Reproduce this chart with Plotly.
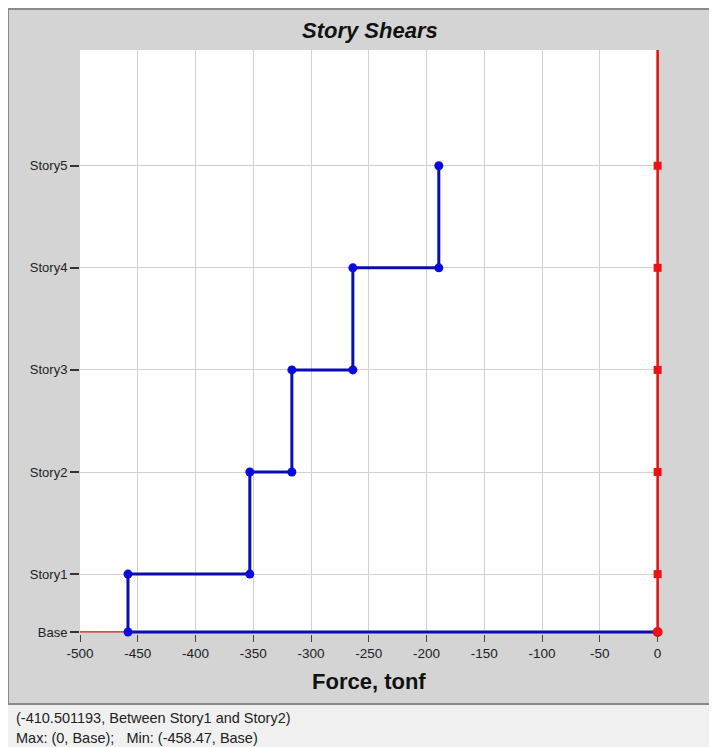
import plotly.graph_objects as go

# ---- data ----
story_names = ["Base", "Story1", "Story2", "Story3", "Story4", "Story5"]
story_elev = [0.0, 1.7, 4.7, 7.7, 10.7, 13.7]
story_shear = [-458.47, -353.0, -316.6, -263.8, -189.4]  # shear in spans Base-Story1 ... Story4-Story5
x_ticks = [-500, -450, -400, -350, -300, -250, -200, -150, -100, -50, 0]
status_line1 = "(-410.501193, Between Story1 and Story2)"
status_line2 = "Max: (0, Base);   Min: (-458.47, Base)"

# build step path (from top down)
xs, ys = [], []
for i in range(len(story_shear) - 1, -1, -1):
    xs += [story_shear[i], story_shear[i]]
    ys += [story_elev[i + 1], story_elev[i]]
xs.append(0)
ys.append(story_elev[0])

# page has an 8px body margin; work in page pixels and convert
OFF = 8
PAGE_W, PAGE_H = 717, 747
W, H = PAGE_W - OFF, PAGE_H - OFF
L, R, T, B = 80 - OFF, 659 - OFF, 50 - OFF, 634 - OFF
ml, mr, mt, mb = L, W - R, T, H - B
pw, ph = R - L, B - T
x_range = [-500, 1.2]
y_range = [-0.06, 17.1]

def px(x_page):
    return (x_page - OFF - L) / pw

def py(y_page):
    return (B - (y_page - OFF)) / ph

FONT = "Liberation Sans, Arial"

fig = go.Figure()

# red baseline & vertical line at zero
fig.add_trace(go.Scatter(x=[-500, 0], y=[0, 0], mode="lines", cliponaxis=False,
                         line=dict(color="#d02020", width=1.3), hoverinfo="skip", showlegend=False))
fig.add_trace(go.Scatter(x=[0] * len(story_elev) + [0], y=story_elev + [y_range[1]], mode="lines",
                         cliponaxis=False,
                         line=dict(color="#e01010", width=2.5), hoverinfo="skip", showlegend=False))
# blue step line
fig.add_trace(go.Scatter(x=xs, y=ys, mode="lines+markers", cliponaxis=False,
                         line=dict(color="#0c0cb0", width=3),
                         marker=dict(color="#0a0ae0", size=9, symbol="circle"),
                         showlegend=False))
# red markers
fig.add_trace(go.Scatter(x=[0] * (len(story_elev) - 1), y=story_elev[1:], mode="markers",
                         cliponaxis=False,
                         marker=dict(color="#ee1111", size=8, symbol="square"),
                         showlegend=False))
fig.add_trace(go.Scatter(x=[0], y=[0], mode="markers", cliponaxis=False,
                         marker=dict(color="#ee1111", size=10, symbol="circle"),
                         showlegend=False))

shapes = [
    # gray panel
    dict(type="rect", xref="paper", yref="paper", x0=px(8), x1=px(PAGE_W + 5), y0=py(704), y1=py(9),
         fillcolor="#d4d4d4", line=dict(color="#8a8a8a", width=2), layer="below"),
    # white plot area (ends at zero force / base level)
    dict(type="rect", xref="paper", yref="paper", x0=0, x1=px(658), y0=py(632), y1=1,
         fillcolor="white", line=dict(width=0), layer="below"),
]

annotations = [
    dict(text="<b><i>Story Shears</i></b>", xref="paper", yref="paper", x=px(370), y=py(30),
         showarrow=False, font=dict(size=22, color="#111111", family=FONT),
         xanchor="center", yanchor="middle"),
    dict(text="<b>Force, tonf</b>", xref="paper", yref="paper", x=px(369), y=py(681),
         showarrow=False, font=dict(size=22, color="#111111", family=FONT),
         xanchor="center", yanchor="middle"),
    dict(text=status_line1, xref="paper", yref="paper", x=px(14), y=py(718),
         showarrow=False, font=dict(size=14.5, color="#222222", family=FONT),
         xanchor="left", yanchor="middle"),
    dict(text=status_line2, xref="paper", yref="paper", x=px(14), y=py(738),
         showarrow=False, font=dict(size=14.5, color="#222222", family=FONT),
         xanchor="left", yanchor="middle"),
]

fig.update_layout(
    width=W, height=H,
    margin=dict(l=ml, r=mr, t=mt, b=mb, pad=0),
    paper_bgcolor="#f0f0f0",
    plot_bgcolor="rgba(0,0,0,0)",
    shapes=shapes,
    annotations=annotations,
    font=dict(family=FONT, size=13, color="#222222"),
    xaxis=dict(range=x_range, tickvals=x_ticks, ticktext=[str(v) for v in x_ticks],
               showgrid=True, gridcolor="#d0d0d0", gridwidth=1, zeroline=False,
               ticks="outside", ticklen=7, tickcolor="#444444", showline=False,
               tickfont=dict(size=13.5, color="#222222")),
    yaxis=dict(range=y_range, tickvals=story_elev, ticktext=story_names,
               showgrid=True, gridcolor="#d0d0d0", gridwidth=1, zeroline=False,
               ticks="outside", ticklen=9, tickwidth=1.5, tickcolor="#333333", showline=False,
               tickfont=dict(size=13, color="#222222")),
    hovermode="closest",
)

fig.write_html("out.html")
